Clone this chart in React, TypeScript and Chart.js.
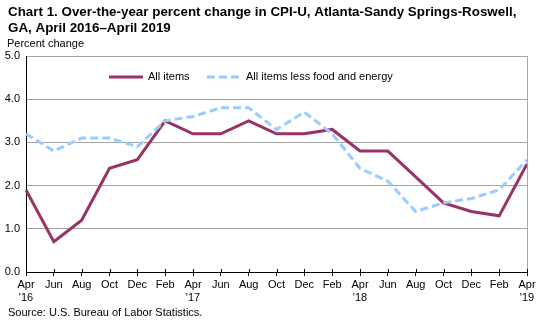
import React, { useEffect, useRef } from 'react';
import { Chart, registerables } from 'chart.js';
Chart.register(...registerables);

const categories: (string | string[])[] = [
  ['Apr', "'16"], 'Jun', 'Aug', 'Oct', 'Dec', 'Feb',
  ['Apr', "'17"], 'Jun', 'Aug', 'Oct', 'Dec', 'Feb',
  ['Apr', "'18"], 'Jun', 'Aug', 'Oct', 'Dec', 'Feb',
  ['Apr', "'19"],
];
const allItems = [1.9, 0.7, 1.2, 2.4, 2.6, 3.5, 3.2, 3.2, 3.5, 3.2, 3.2, 3.3, 2.8, 2.8, 2.2, 1.6, 1.4, 1.3, 2.5];
const coreItems = [3.2, 2.8, 3.1, 3.1, 2.9, 3.5, 3.6, 3.8, 3.8, 3.3, 3.7, 3.2, 2.4, 2.1, 1.4, 1.6, 1.7, 1.9, 2.6];
const seriesNames = ['All items', 'All items less food and energy'];
const titleLines = [
  'Chart 1. Over-the-year percent change in CPI-U, Atlanta-Sandy Springs-Roswell,',
  'GA, April 2016\u2013April 2019',
];
const yAxisTitle = 'Percent change';
const sourceText = 'Source: U.S. Bureau of Labor Statistics.';

const FONT = "'Liberation Sans', Arial, sans-serif";
const MAROON = '#993366';
const LIGHTBLUE = '#99ccff';

const decorPlugin = {
  id: 'decor',
  afterDraw(chart: any) {
    const ctx = chart.ctx;
    const area = chart.chartArea;
    ctx.save();
    // right border
    ctx.strokeStyle = '#a6a6a6';
    ctx.lineWidth = 1;
    ctx.beginPath();
    ctx.moveTo(Math.round(area.right) + 0.5, area.top);
    ctx.lineTo(Math.round(area.right) + 0.5, area.bottom);
    ctx.stroke();

    // tick marks crossing above the x axis
    const xs = chart.scales.x;
    ctx.strokeStyle = '#000';
    ctx.beginPath();
    for (let i = 0; i < categories.length; i++) {
      const px = Math.round(xs.getPixelForTick(i)) + 0.5;
      ctx.moveTo(px, area.bottom - 3);
      ctx.lineTo(px, area.bottom);
    }
    ctx.stroke();

    ctx.fillStyle = '#000';
    ctx.textBaseline = 'middle';
    ctx.textAlign = 'left';
    ctx.font = `bold 15px ${FONT}`;
    const w0 = ctx.measureText(titleLines[0]).width;
    const size = Math.min(15, (15 * 509) / w0);
    ctx.font = `bold ${size.toFixed(2)}px ${FONT}`;
    ctx.fillText(titleLines[0], 8, 12);
    ctx.fillText(titleLines[1], 8, 28);
    ctx.font = `11px ${FONT}`;
    ctx.fillText(yAxisTitle, 7, 44);
    ctx.fillText(sourceText, 8, 313);

    // legend
    const ly = 77;
    const items = [
      { x: 109, color: MAROON, dash: [] as number[], label: seriesNames[0] },
      { x: 207, color: LIGHTBLUE, dash: [8, 4], label: seriesNames[1] },
    ];
    for (const it of items) {
      ctx.strokeStyle = it.color;
      ctx.lineWidth = 3;
      ctx.setLineDash(it.dash);
      ctx.beginPath();
      ctx.moveTo(it.x, ly);
      ctx.lineTo(it.x + 34, ly);
      ctx.stroke();
      ctx.setLineDash([]);
      ctx.fillStyle = '#000';
      ctx.fillText(it.label, it.x + 39, ly);
    }
    ctx.restore();
  },
};

export default function App() {
  const ref = useRef<HTMLCanvasElement>(null);
  useEffect(() => {
    if (!ref.current) return;
    const chart = new Chart(ref.current, {
      type: 'line',
      data: {
        labels: categories,
        datasets: [
          {
            label: seriesNames[1],
            data: coreItems,
            borderColor: LIGHTBLUE,
            borderWidth: 3,
            borderDash: [8, 4],
            pointRadius: 0,
            tension: 0,
            fill: false,
          },
          {
            label: seriesNames[0],
            data: allItems,
            borderColor: MAROON,
            borderWidth: 3,
            pointRadius: 0,
            tension: 0,
            fill: false,
          },
        ],
      },
      options: {
        animation: false,
        responsive: false,
        maintainAspectRatio: false,
        layout: { padding: { top: 56, right: 17, left: 0, bottom: 0 } },
        plugins: { legend: { display: false }, title: { display: false }, tooltip: { enabled: false } },
        scales: {
          x: {
            type: 'category',
            offset: false,
            afterFit: (s: any) => { s.height = 51; },
            grid: { drawOnChartArea: false, drawTicks: true, tickLength: 4, color: '#000' },
            border: { color: '#000', width: 1 },
            ticks: {
              autoSkip: false,
              maxRotation: 0,
              minRotation: 0,
              padding: 2,
              color: '#000',
              font: { family: FONT, size: 11 },
            },
          },
          y: {
            min: 0,
            max: 5,
            afterFit: (s: any) => { s.width = 26; },
            grid: { color: '#a6a6a6', drawTicks: false, lineWidth: 1 },
            border: { color: '#000', width: 1 },
            ticks: {
              stepSize: 1,
              padding: 6,
              color: '#000',
              font: { family: FONT, size: 11 },
              callback: (v: any) => Number(v).toFixed(1),
            },
          },
        },
      },
      plugins: [decorPlugin],
    });
    return () => chart.destroy();
  }, []);
  return (
    <div style={{ position: 'fixed', left: 0, top: 0, width: 544, height: 323, background: '#fff' }}>
      <canvas ref={ref} width={544} height={323} style={{ width: 544, height: 323 }} />
    </div>
  );
}
